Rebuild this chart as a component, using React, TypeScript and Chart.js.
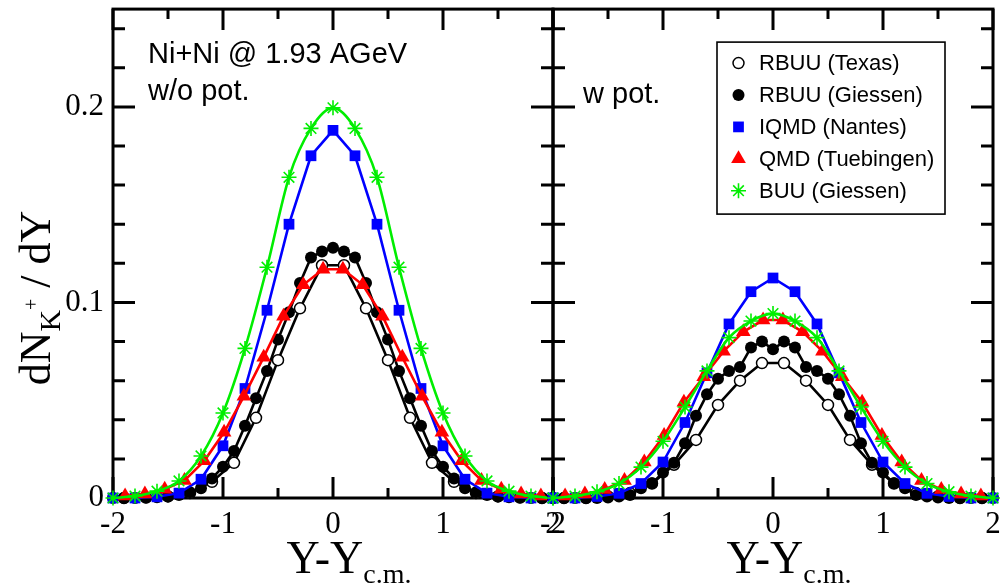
import React, { useEffect, useRef } from 'react';
import { Chart, registerables } from 'chart.js';
import { drawPoint } from 'chart.js/helpers';

Chart.register(...registerables);

// ---------- axes ----------
const X_MIN = -2;
const X_MAX = 2;
const Y_MIN = 0;
const Y_MAX = 0.25;
const X_TICK_LABELS = [-2, -1, 0, 1, 2];
const Y_TICK_LABELS = [0, 0.1, 0.2];
const X_TICK_MARKS = [-2, -1.5, -1, -0.5, 0, 0.5, 1, 1.5, 2];
const Y_TICK_MARKS = [0, 0.02, 0.04, 0.06, 0.08, 0.1, 0.12, 0.14, 0.16, 0.18, 0.2, 0.22, 0.24];

// ---------- series ----------
const seriesLabels = ['RBUU (Texas)', 'RBUU (Giessen)', 'IQMD (Nantes)', 'QMD (Tuebingen)', 'BUU (Giessen)'];

// RBUU (Texas)
const rbuuTexasY = [-1.9, -1.7, -1.5, -1.3, -1.1, -0.9, -0.7, -0.5, -0.3, -0.1, 0.1, 0.3, 0.5, 0.7, 0.9, 1.1, 1.3, 1.5, 1.7, 1.9];
const rbuuTexasNoPot = [0, 0.0002, 0.0008, 0.0025, 0.0083, 0.018, 0.041, 0.0705, 0.097, 0.119, 0.119, 0.097, 0.0705, 0.041, 0.018, 0.0083, 0.0025, 0.0008, 0.0002, 0];
const rbuuTexasPot = [0, 0, 0.0008, 0.0025, 0.0074, 0.017, 0.0297, 0.0476, 0.06, 0.069, 0.069, 0.06, 0.0476, 0.0297, 0.017, 0.0074, 0.0025, 0.0008, 0, 0];

// RBUU (Giessen)
const rbuuGiessenY = [-2, -1.9, -1.8, -1.7, -1.6, -1.5, -1.4, -1.3, -1.2, -1.1, -1, -0.9, -0.8, -0.7, -0.6, -0.5, -0.4, -0.3, -0.2, -0.1, 0, 0.1, 0.2, 0.3, 0.4, 0.5, 0.6, 0.7, 0.8, 0.9, 1, 1.1, 1.2, 1.3, 1.4, 1.5, 1.6, 1.7, 1.8, 1.9, 2];
const rbuuGiessenNoPot = [0, 0, 0, 0.0002, 0.0004, 0.0008, 0.0015, 0.003, 0.005, 0.01, 0.016, 0.024, 0.037, 0.051, 0.065, 0.081, 0.095, 0.11, 0.123, 0.126, 0.128, 0.126, 0.123, 0.11, 0.095, 0.081, 0.065, 0.051, 0.037, 0.024, 0.016, 0.01, 0.005, 0.003, 0.0015, 0.0008, 0.0004, 0.0002, 0, 0, 0];
const rbuuGiessenPot = [0, 0, 0, 0, 0, 0.0003, 0.0008, 0.0015, 0.005, 0.0075, 0.013, 0.018, 0.028, 0.042, 0.053, 0.061, 0.065, 0.067, 0.077, 0.08, 0.076, 0.08, 0.077, 0.067, 0.065, 0.061, 0.053, 0.042, 0.028, 0.018, 0.013, 0.0075, 0.005, 0.0015, 0.0008, 0.0003, 0, 0, 0, 0, 0];

// IQMD (Nantes)
const iqmdY = [-2, -1.8, -1.6, -1.4, -1.2, -1, -0.8, -0.6, -0.4, -0.2, 0, 0.2, 0.4, 0.6, 0.8, 1, 1.2, 1.4, 1.6, 1.8, 2];
const iqmdNoPot = [0, 0, 0.0006, 0.0025, 0.0096, 0.0267, 0.056, 0.096, 0.14, 0.175, 0.188, 0.175, 0.14, 0.096, 0.056, 0.0267, 0.0096, 0.0025, 0.0006, 0, 0];
const iqmdPot = [0, 0, 0.0008, 0.0024, 0.0074, 0.0184, 0.0386, 0.064, 0.089, 0.1055, 0.1125, 0.1055, 0.089, 0.064, 0.0386, 0.0184, 0.0074, 0.0024, 0.0008, 0, 0];

// QMD (Tuebingen)
const qmdY = [-1.89, -1.71, -1.53, -1.35, -1.17, -0.99, -0.81, -0.63, -0.45, -0.27, -0.09, 0.09, 0.27, 0.45, 0.63, 0.81, 0.99, 1.17, 1.35, 1.53, 1.71, 1.89];
const qmdNoPot = [0.001, 0.002, 0.0045, 0.009, 0.019, 0.0336, 0.052, 0.072, 0.093, 0.109, 0.117, 0.117, 0.109, 0.093, 0.072, 0.052, 0.0336, 0.019, 0.009, 0.0045, 0.002, 0.001];
const qmdPot = [0.001, 0.002, 0.0044, 0.009, 0.0184, 0.032, 0.049, 0.062, 0.075, 0.085, 0.091, 0.091, 0.085, 0.075, 0.062, 0.049, 0.032, 0.0184, 0.009, 0.0044, 0.002, 0.001];

// BUU (Giessen)
const buuY = [-2, -1.8, -1.6, -1.4, -1.2, -1, -0.8, -0.6, -0.4, -0.2, 0, 0.2, 0.4, 0.6, 0.8, 1, 1.2, 1.4, 1.6, 1.8, 2];
const buuNoPot = [0, 0.001, 0.0035, 0.0087, 0.0215, 0.0435, 0.0765, 0.118, 0.164, 0.189, 0.1995, 0.189, 0.164, 0.118, 0.0765, 0.0435, 0.0215, 0.0087, 0.0035, 0.001, 0];
const buuPot = [0, 0.001, 0.0032, 0.0074, 0.0158, 0.029, 0.0465, 0.065, 0.082, 0.0905, 0.0943, 0.0905, 0.082, 0.065, 0.0465, 0.029, 0.0158, 0.0074, 0.0032, 0.001, 0];

// ---------- styles ----------
const SERIF = '"Liberation Serif", "Times New Roman", serif';
const SANS = '"Liberation Sans", Arial, sans-serif';
const BLUE = '#0000ff';
const RED = '#ff0000';
const GREEN = '#00ee00';

type Style = { pointStyle: any; radius: number; fill: string; stroke: string; pbw: number; line: string; order: number; smooth?: boolean };
const seriesStyles: Style[] = [
  { pointStyle: 'circle', radius: 5.5, fill: '#ffffff', stroke: '#000000', pbw: 1.5, line: '#000000', order: 5 },
  { pointStyle: 'circle', radius: 6, fill: '#000000', stroke: '#000000', pbw: 0, line: '#000000', order: 4 },
  { pointStyle: 'rect', radius: 7.6, fill: BLUE, stroke: BLUE, pbw: 0, line: BLUE, order: 3 },
  { pointStyle: 'triangle', radius: 8.5, fill: RED, stroke: RED, pbw: 0, line: RED, order: 2 },
  { pointStyle: 'star', radius: 7.5, fill: GREEN, stroke: GREEN, pbw: 1.6, line: GREEN, order: 1, smooth: true },
];

const zip = (xs: number[], ys: number[]) => xs.map((x, i) => ({ x, y: ys[i] }));

function makeDatasets(pot: boolean) {
  const pairs: [number[], number[]][] = pot
    ? [[rbuuTexasY, rbuuTexasPot], [rbuuGiessenY, rbuuGiessenPot], [iqmdY, iqmdPot], [qmdY, qmdPot], [buuY, buuPot]]
    : [[rbuuTexasY, rbuuTexasNoPot], [rbuuGiessenY, rbuuGiessenNoPot], [iqmdY, iqmdNoPot], [qmdY, qmdNoPot], [buuY, buuNoPot]];
  return pairs.map(([xs, ys], i) => {
    const s = seriesStyles[i];
    return {
      label: seriesLabels[i],
      data: zip(xs, ys),
      borderColor: s.line,
      borderWidth: 2.6,
      backgroundColor: s.fill,
      pointStyle: s.pointStyle,
      pointRadius: s.radius,
      pointBackgroundColor: s.fill,
      pointBorderColor: s.stroke,
      pointBorderWidth: s.pbw,
      tension: 0,
      cubicInterpolationMode: s.smooth ? 'monotone' : 'default',
      order: s.order,
      clip: false,
      fill: false,
    };
  });
}

// ---------- plugins ----------
const near = (a: number, b: number) => Math.abs(a - b) < 1e-9;

const framePlugin = {
  id: 'frameTicks',
  beforeDatasetsDraw(chart: any) {
    const { ctx, chartArea: a, scales } = chart;
    const xs = scales.x;
    const ys = scales.y;
    ctx.save();
    ctx.strokeStyle = '#000';
    ctx.lineWidth = 3;
    ctx.lineCap = 'butt';
    ctx.beginPath();
    X_TICK_MARKS.forEach((v) => {
      const px = xs.getPixelForValue(v);
      const len = X_TICK_LABELS.some((l) => near(l, v)) ? 21 : 10;
      ctx.moveTo(px, a.bottom);
      ctx.lineTo(px, a.bottom - len);
      ctx.moveTo(px, a.top);
      ctx.lineTo(px, a.top + len);
    });
    Y_TICK_MARKS.forEach((v) => {
      const py = ys.getPixelForValue(v);
      const len = Y_TICK_LABELS.some((l) => near(l, v)) ? 22 : 12;
      ctx.moveTo(a.left, py);
      ctx.lineTo(a.left + len, py);
      ctx.moveTo(a.right, py);
      ctx.lineTo(a.right - len, py);
    });
    ctx.stroke();
    ctx.strokeRect(a.left, a.top, a.right - a.left, a.bottom - a.top);
    ctx.restore();
  },
};

type Part = { t: string; size: number; dy: number; family: string };
function drawRich(ctx: CanvasRenderingContext2D, parts: Part[], cx: number, baseline: number) {
  let total = 0;
  const widths = parts.map((p) => {
    ctx.font = `${p.size}px ${p.family}`;
    const w = ctx.measureText(p.t).width;
    total += w;
    return w;
  });
  let x = cx - total / 2;
  ctx.textBaseline = 'alphabetic';
  ctx.textAlign = 'left';
  parts.forEach((p, i) => {
    ctx.font = `${p.size}px ${p.family}`;
    ctx.fillText(p.t, x, baseline + p.dy);
    x += widths[i];
  });
}

function xTitleParts(): Part[] {
  return [
    { t: 'Y-Y', size: 46, dy: 0, family: SERIF },
    { t: 'c.m.', size: 28, dy: 10, family: SERIF },
  ];
}

function textPlugin(side: 'left' | 'right') {
  return {
    id: 'texts-' + side,
    afterDraw(chart: any) {
      const { ctx, chartArea: a } = chart;
      ctx.save();
      ctx.fillStyle = '#000';
      // x-axis title
      drawRich(ctx, xTitleParts(), (a.left + a.right) / 2 + 16, 573);
      if (side === 'left') {
        // annotation
        ctx.font = `29px ${SANS}`;
        ctx.textAlign = 'left';
        ctx.textBaseline = 'alphabetic';
        ctx.fillText('Ni+Ni @ 1.93 AGeV', a.left + 35, 63);
        ctx.fillText('w/o pot.', a.left + 35, 100);
        // y-axis title
        ctx.save();
        ctx.translate(50, 298);
        ctx.rotate(-Math.PI / 2);
        drawRich(
          ctx,
          [
            { t: 'dN', size: 44, dy: 0, family: SERIF },
            { t: 'K', size: 30, dy: 10, family: SERIF },
            { t: '+', size: 20, dy: -12, family: SERIF },
            { t: ' / dY', size: 44, dy: 0, family: SERIF },
          ],
          0,
          0
        );
        ctx.restore();
      } else {
        ctx.font = `29px ${SANS}`;
        ctx.textAlign = 'left';
        ctx.textBaseline = 'alphabetic';
        ctx.fillText('w pot.', a.left + 30, 103);
        // legend
        const bx = a.left + 164;
        const by = a.top + 33;
        const bw = 228;
        const bh = 172;
        ctx.fillStyle = '#fff';
        ctx.fillRect(bx, by, bw, bh);
        ctx.strokeStyle = '#000';
        ctx.lineWidth = 1.6;
        ctx.strokeRect(bx, by, bw, bh);
        seriesLabels.forEach((label, i) => {
          const s = seriesStyles[i];
          const cy = by + 21 + i * 31.9;
          ctx.save();
          ctx.fillStyle = s.fill;
          ctx.strokeStyle = s.stroke;
          ctx.lineWidth = s.pbw;
          drawPoint(ctx, { pointStyle: s.pointStyle, rotation: 0, radius: s.radius, borderWidth: s.pbw } as any, bx + 21.5, cy);
          ctx.restore();
          ctx.fillStyle = '#000';
          ctx.font = `22px ${SANS}`;
          ctx.textAlign = 'left';
          ctx.textBaseline = 'middle';
          ctx.fillText(label, bx + 42, cy + 1);
        });
      }
      ctx.restore();
    },
  };
}

const zeroPad = (s: any) => {
  s.paddingTop = 0;
  s.paddingBottom = 0;
  s.paddingLeft = 0;
  s.paddingRight = 0;
};

function buildConfig(side: 'left' | 'right'): any {
  const isLeft = side === 'left';
  return {
    type: 'line',
    data: { datasets: makeDatasets(!isLeft) },
    options: {
      responsive: false,
      animation: false,
      events: [],
      layout: {
        padding: isLeft ? { left: 0, right: 27, top: 4, bottom: 0 } : { left: 33, right: 27, top: 4, bottom: 0 },
      },
      plugins: { legend: { display: false }, tooltip: { enabled: false } },
      scales: {
        x: {
          type: 'linear',
          min: X_MIN,
          max: X_MAX,
          grid: { display: false, drawTicks: false },
          border: { display: false },
          ticks: {
            stepSize: 1,
            padding: 8,
            color: '#000',
            maxRotation: 0,
            autoSkip: false,
            font: { family: SERIF, size: 31 },
            callback: (v: number) => {
              const l = X_TICK_LABELS.find((t) => near(t, v));
              return l === undefined ? '' : String(l);
            },
          },
          afterFit: (s: any) => {
            s.height = 89;
            zeroPad(s);
          },
        },
        y: {
          type: 'linear',
          min: Y_MIN,
          max: Y_MAX,
          display: isLeft,
          grid: { display: false, drawTicks: false },
          border: { display: false },
          ticks: {
            stepSize: 0.1,
            padding: 9,
            color: '#000',
            includeBounds: false,
            font: { family: SERIF, size: 31 },
            callback: (v: number) => {
              const l = Y_TICK_LABELS.find((t) => near(t, v));
              return l === undefined ? '' : String(l);
            },
          },
          afterFit: (s: any) => {
            if (isLeft) s.width = 113;
            zeroPad(s);
          },
        },
      },
    },
    plugins: [framePlugin, textPlugin(side)],
  };
}

export default function App() {
  const leftRef = useRef<HTMLCanvasElement>(null);
  const rightRef = useRef<HTMLCanvasElement>(null);
  useEffect(() => {
    const l = new Chart(leftRef.current as HTMLCanvasElement, buildConfig('left'));
    const r = new Chart(rightRef.current as HTMLCanvasElement, buildConfig('right'));
    return () => {
      l.destroy();
      r.destroy();
    };
  }, []);
  return (
    <div style={{ position: 'fixed', left: 0, top: 0, width: 1000, height: 587, overflow: 'hidden', background: '#fff' }}>
      <canvas ref={leftRef} width={580} height={587} style={{ position: 'absolute', left: 0, top: 0, width: 580, height: 587 }} />
      <canvas ref={rightRef} width={500} height={587} style={{ position: 'absolute', left: 520, top: 0, width: 500, height: 587 }} />
    </div>
  );
}
